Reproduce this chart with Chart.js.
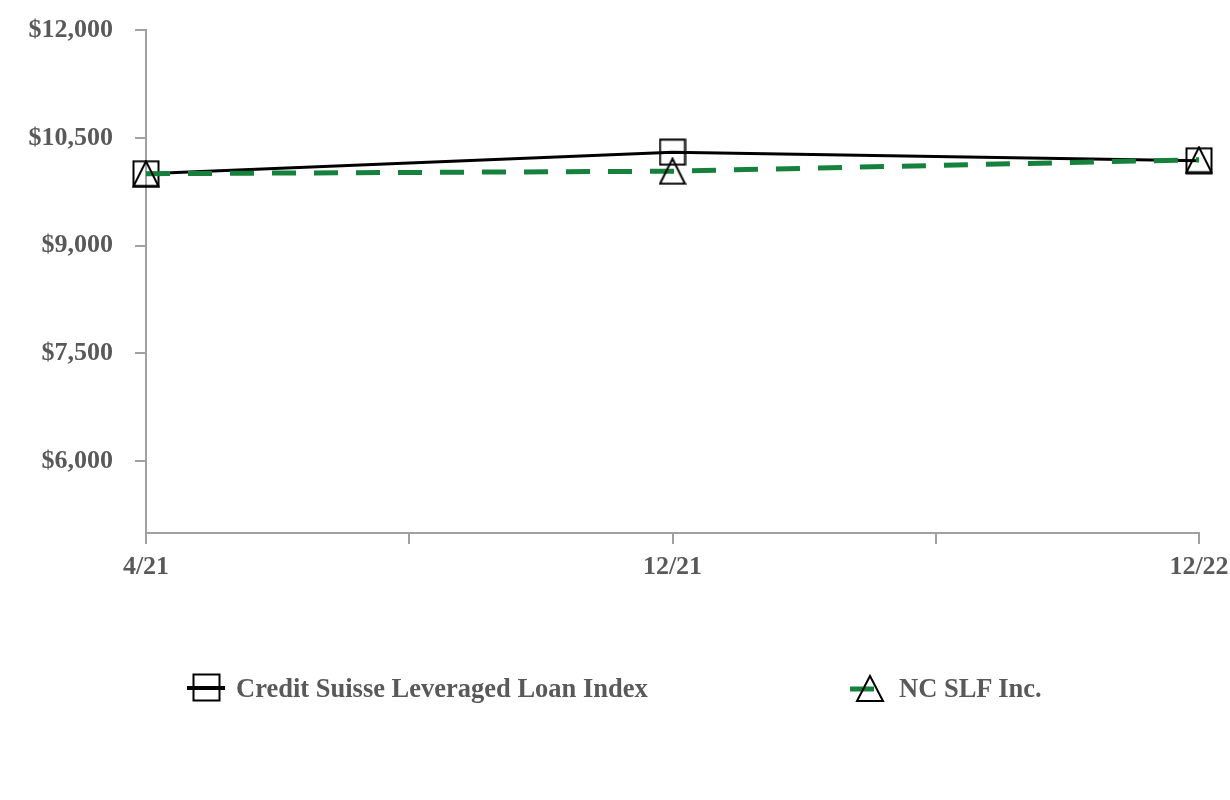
<!DOCTYPE html>
<html>
<head>
<meta charset="utf-8">
<script src="https://cdn.jsdelivr.net/npm/chart.js@4.4.1/dist/chart.umd.min.js"></script>
<style>
  html, body { margin: 0; padding: 0; background: #ffffff; }
  #wrap { position: relative; width: 1230px; height: 800px; }
  #chart { position: absolute; left: 0; top: 0; }
  #legend { position: absolute; left: 0; top: 0; width: 1230px; height: 800px; pointer-events: none; }
  .item { position: absolute; display: flex; align-items: center; height: 30px;
          font-family: 'Liberation Serif', 'Times New Roman', serif; font-weight: bold;
          font-size: 26.5px; color: #595959; white-space: nowrap; }
  .item svg { display: block; margin-right: 9px; }
</style>
</head>
<body>
<div id="wrap">
  <canvas id="chart" width="1230" height="800"></canvas>
  <div id="legend"></div>
</div>
<script>
// ---- data ----
const categories = ['4/21', '12/21', '12/22'];
const creditSuisse = [10000, 10300, 10180];
const ncSlf = [10000, 10035, 10195];
const yTickValues = [6000, 7500, 9000, 10500, 12000];
const seriesNames = ['Credit Suisse Leveraged Loan Index', 'NC SLF Inc.'];

const GREEN = '#16813d';
const GRAY_AXIS = '#a0a0a0';
const LABEL = '#595959';
const FONT = "'Liberation Serif', 'Times New Roman', serif";

function makeMarker(kind) {
  const c = document.createElement('canvas');
  c.width = 28; c.height = 28;
  const g = c.getContext('2d');
  g.strokeStyle = '#000'; g.lineWidth = 2;
  if (kind === 'square') {
    g.strokeRect(1.5, 1.5, 25, 25);
  } else {
    g.beginPath();
    g.moveTo(14, 1.5); g.lineTo(26.5, 26.5); g.lineTo(1.5, 26.5); g.closePath();
    g.stroke();
  }
  return c;
}
const squareImg = makeMarker('square');
const triImg = makeMarker('triangle');

const toPts = arr => arr.map((v, i) => ({ x: i, y: v }));

const xTickValues = [];
categories.forEach((c, i) => { xTickValues.push(i); if (i < categories.length - 1) xTickValues.push(i + 0.5); });

const chart = new Chart(document.getElementById('chart'), {
  type: 'line',
  data: {
    datasets: [
      {
        label: seriesNames[0],
        data: toPts(creditSuisse),
        borderColor: '#000000',
        borderWidth: 3,
        pointStyle: squareImg,
        pointRadius: 13,
        tension: 0,
        clip: false,
        order: 2
      },
      {
        label: seriesNames[1],
        data: toPts(ncSlf),
        borderColor: GREEN,
        borderWidth: 5,
        borderDash: [24, 18],
        pointStyle: triImg,
        pointRadius: 13,
        tension: 0,
        clip: false,
        order: 1
      }
    ]
  },
  options: {
    responsive: false,
    animation: false,
    layout: { padding: { top: 30, right: 31, left: 0, bottom: 0 } },
    plugins: { legend: { display: false }, tooltip: { enabled: false } },
    scales: {
      x: {
        type: 'linear',
        min: 0,
        max: categories.length - 1,
        afterBuildTicks: s => { s.ticks = xTickValues.map(v => ({ value: v })); },
        afterFit: s => { s.height = 267; s.paddingLeft = 0; s.paddingRight = 0; },
        grid: { drawOnChartArea: false, drawTicks: true, tickLength: 11, color: GRAY_AXIS, lineWidth: 2 },
        border: { color: GRAY_AXIS, width: 2 },
        ticks: {
          autoSkip: false,
          maxRotation: 0,
          padding: 8,
          color: LABEL,
          font: { family: FONT, size: 26, weight: 'bold' },
          callback: v => Number.isInteger(v) ? categories[v] : ''
        }
      },
      y: {
        min: 5000,
        max: 12000,
        afterBuildTicks: s => { s.ticks = yTickValues.map(v => ({ value: v })); },
        afterFit: s => { s.width = 146; s.paddingTop = 0; s.paddingBottom = 0; },
        grid: { drawOnChartArea: false, drawTicks: true, tickLength: 11, color: GRAY_AXIS, lineWidth: 2 },
        border: { color: GRAY_AXIS, width: 2 },
        ticks: {
          padding: 22,
          color: LABEL,
          font: { family: FONT, size: 26, weight: 'bold' },
          callback: v => '$' + v.toLocaleString('en-US')
        }
      }
    }
  }
});

// ---- HTML legend built from the chart's datasets ----
const legend = document.getElementById('legend');
const legendPos = [{ left: 187, top: 673 }, { left: 850, top: 673 }];
chart.data.datasets.forEach((ds, i) => {
  const item = document.createElement('div');
  item.className = 'item';
  item.style.left = legendPos[i].left + 'px';
  item.style.top = legendPos[i].top + 'px';
  let svg;
  if (i === 0) {
    svg = '<svg width="40" height="30"><line x1="0" y1="15" x2="38" y2="15" stroke="#000" stroke-width="4"/>' +
          '<rect x="6.5" y="1.5" width="26" height="26" fill="none" stroke="#000" stroke-width="2"/></svg>';
  } else {
    svg = '<svg width="40" height="30" style="margin-right:9px"><line x1="0" y1="16" x2="24" y2="16" stroke="' + GREEN + '" stroke-width="5"/>' +
          '<polygon points="20,3 33,28 7,28" fill="none" stroke="#000" stroke-width="2"/></svg>';
  }
  item.innerHTML = svg + '<span>' + ds.label + '</span>';
  legend.appendChild(item);
});
</script>
</body>
</html>
